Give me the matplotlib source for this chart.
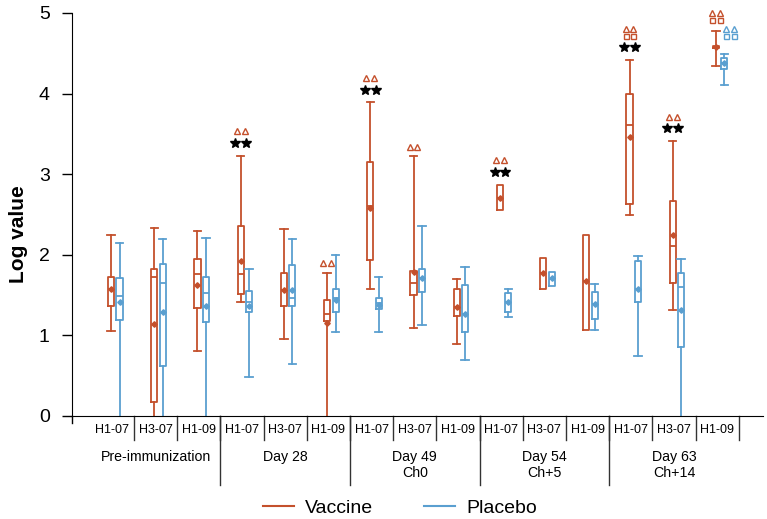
import matplotlib
matplotlib.use("Agg")
import matplotlib.pyplot as plt
import matplotlib.transforms as mtransforms
from matplotlib.lines import Line2D
import numpy as np

plt.rcParams['font.family'] = ['Liberation Sans', 'DejaVu Sans']

# ---------------- data ----------------
strains = ['H1-07', 'H3-07', 'H1-09'] * 5
groups = ['Pre-immunization', 'Day 28', 'Day 49\nCh0', 'Day 54\nCh+5', 'Day 63\nCh+14']

vac_whishi = [2.24, 2.33, 2.29, 3.23, 2.32, 1.78, 3.89, 3.22, 1.70, 2.87, 1.96, 2.25, 4.42, 3.41, 4.78]
vac_q3     = [1.73, 1.82, 1.95, 2.36, 1.78, 1.44, 3.15, 1.80, 1.57, 2.87, 1.96, 2.25, 4.00, 2.67, 4.59]
vac_med    = [1.57, 1.72, 1.76, 1.76, 1.56, 1.27, 2.61, 1.65, 1.35, 2.70, 1.77, 1.67, 3.61, 2.11, 4.58]
vac_mean   = [1.57, 1.14, 1.63, 1.92, 1.56, 1.15, 2.58, 1.79, 1.35, 2.70, 1.77, 1.67, 3.46, 2.25, 4.58]
vac_q1     = [1.37, 0.17, 1.34, 1.51, 1.36, 1.18, 1.94, 1.50, 1.24, 2.55, 1.58, 1.07, 2.63, 1.65, 4.56]
vac_whislo = [1.05, -0.30, 0.81, 1.41, 0.95, -0.30, 1.58, 1.09, 0.89, 2.55, 1.58, 1.07, 2.49, 1.32, 4.34]

pla_whishi = [2.15, 2.19, 2.21, 1.82, 2.19, 2.00, 1.73, 2.36, 1.85, 1.58, 1.79, 1.64, 1.99, 1.95, 4.49]
pla_q3     = [1.71, 1.88, 1.73, 1.55, 1.87, 1.57, 1.47, 1.83, 1.63, 1.52, 1.79, 1.54, 1.92, 1.78, 4.44]
pla_med    = [1.49, 1.65, 1.52, 1.42, 1.47, 1.46, 1.40, 1.71, 1.26, 1.41, 1.70, 1.39, 1.57, 1.60, 4.38]
pla_mean   = [1.41, 1.29, 1.37, 1.36, 1.56, 1.44, 1.38, 1.71, 1.26, 1.41, 1.71, 1.39, 1.57, 1.31, 4.38]
pla_q1     = [1.19, 0.62, 1.17, 1.29, 1.36, 1.29, 1.33, 1.54, 1.04, 1.29, 1.61, 1.20, 1.41, 0.85, 4.31]
pla_whislo = [-0.30, -0.30, -0.30, 0.48, 0.65, 1.04, 1.04, 1.13, 0.69, 1.23, 1.61, 1.07, 0.74, -0.30, 4.11]

# significance annotations: (category index, series, symbols bottom->top)
annotations = [(3, 'vac', '*^'), (5, 'vac', '^'), (6, 'vac', '*^'), (7, 'vac', '^'),
               (9, 'vac', '*^'), (12, 'vac', '*s^'), (13, 'vac', '*^'),
               (14, 'vac', 's^'), (14, 'pla', 's^')]

RED = '#C4502C'
BLUE = '#5A9FD0'

fig = plt.figure(figsize=(7.67, 5.19), dpi=100)
ax = fig.add_axes([72 / 767, 1 - 416 / 519, (763 - 72) / 767, (416 - 13) / 519])

pos = np.arange(1, len(strains) + 1)
OFF = {'vac': -0.03, 'pla': 0.165}
BW = 0.14
CW = 0.17


def make_stats(wl, q1, med, q3, wh, mean):
    return [dict(whislo=a, q1=b, med=c, q3=d, whishi=e, mean=f, fliers=[])
            for a, b, c, d, e, f in zip(wl, q1, med, q3, wh, mean)]


series = {
    'vac': (make_stats(vac_whislo, vac_q1, vac_med, vac_q3, vac_whishi, vac_mean), RED, vac_whishi, vac_q3),
    'pla': (make_stats(pla_whislo, pla_q1, pla_med, pla_q3, pla_whishi, pla_mean), BLUE, pla_whishi, pla_q3),
}

for key, (stats, col, wh, q3) in series.items():
    caps = [0 if (s['whishi'] == s['q3'] and s['whislo'] == s['q1']) else CW for s in stats]
    lp = dict(color=col, linewidth=1.3)
    ax.bxp(stats, positions=pos + OFF[key], widths=BW, capwidths=caps,
           showmeans=True, showfliers=False, manage_ticks=False,
           boxprops=lp, whiskerprops=lp, capprops=lp, medianprops=lp,
           meanprops=dict(marker='D', markerfacecolor=col, markeredgecolor=col,
                          markersize=2.8, linestyle='none'))

# annotations
first_gap = {'*': 0.16, 's': 0.13, '^': 0.12}
next_gap = {('*', 's'): 0.14, ('*', '^'): 0.14, ('s', '^'): 0.085}
nudge = {(14, 'pla'): (0.13, 0.10)}
for idx, key, syms in annotations:
    stats, col, wh, q3 = series[key]
    dx, dy = nudge.get((idx, key), (0.0, 0.0))
    xc = pos[idx] + OFF[key] + dx
    y = wh[idx] + dy
    prev = None
    for s in syms:
        y += first_gap[s] if prev is None else next_gap[(prev, s)]
        prev = s
        if s == '*':
            ax.plot([xc - 0.125, xc + 0.125], [y, y], linestyle='none', marker='*',
                    color='black', markersize=7.2, clip_on=False)
        elif s == 's':
            ax.plot([xc - 0.09, xc + 0.09], [y, y], linestyle='none', marker='s',
                    markerfacecolor='none', markeredgecolor=col, markersize=3.6,
                    markeredgewidth=1.0, clip_on=False)
        else:
            ax.plot([xc - 0.09, xc + 0.09], [y, y], linestyle='none', marker='^',
                    markerfacecolor='none', markeredgecolor=col, markersize=4.2,
                    markeredgewidth=1.0, clip_on=False)

ax.set_xlim(0.065, 16.06)
ax.set_ylim(0, 5)
ax.spines['top'].set_visible(False)
ax.spines['right'].set_visible(False)
ax.set_xticks([])
ax.set_yticks([0, 1, 2, 3, 4, 5])
ax.tick_params(axis='y', direction='out', length=7, width=1, labelsize=14, pad=9)
ax.set_ylabel('Log value', fontsize=15, fontweight='bold')
ax.yaxis.set_label_coords((28 - 72) / 691, (416 - 234) / 403)

# small extension of y spine below the x axis
ax.plot([0, 0], [0, -0.018], transform=ax.transAxes, color='black', lw=1, clip_on=False)

trans = mtransforms.blended_transform_factory(ax.transData, ax.transAxes)
H = 403.0
for i in range(1, len(strains)):
    b = i + 0.5
    ax.plot([b, b], [0, -24 / H], transform=trans, color='#333333', lw=1, clip_on=False)
ax.plot([15.5, 15.5], [0, -24 / H], transform=trans, color='#333333', lw=1, clip_on=False)
for g in range(1, len(groups)):
    b = 3 * g + 0.5
    ax.plot([b, b], [0, -69 / H], transform=trans, color='#333333', lw=1, clip_on=False)

for i, s in enumerate(strains):
    ax.text(pos[i], -14 / H, s, transform=trans, ha='center', va='center', fontsize=9)
for g, name in enumerate(groups):
    ax.text(3 * g + 2, -34 / H, name, transform=trans, ha='center', va='top',
            fontsize=10.2, linespacing=1.15)

handles = [Line2D([], [], color=RED, lw=1.5), Line2D([], [], color=BLUE, lw=1.5)]
fig.legend(handles, ['Vaccine', 'Placebo'], loc='center', bbox_to_anchor=(400 / 767, 1 - 508 / 519),
           ncol=2, frameon=False, fontsize=14, handlelength=1.6, handletextpad=0.6,
           columnspacing=2.6, borderpad=0)

fig.savefig('out.png', dpi=100)
